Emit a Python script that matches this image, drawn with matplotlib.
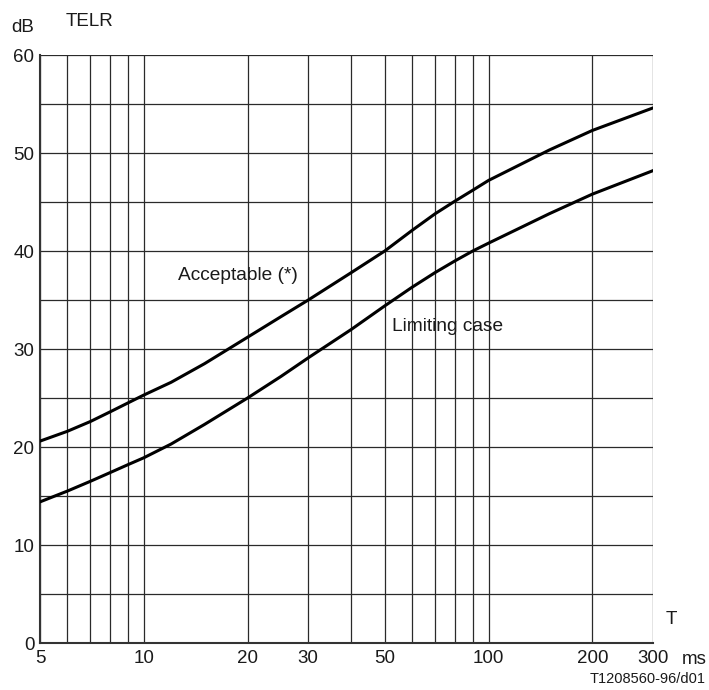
import matplotlib
matplotlib.use("Agg")
import matplotlib.pyplot as plt
from matplotlib.ticker import FixedLocator, NullLocator, NullFormatter

plt.rcParams['font.family'] = ['Liberation Sans', 'DejaVu Sans']

# Data
t_ms = [5, 6, 7, 8, 9, 10, 12, 15, 20, 25, 30, 40, 50, 60, 70, 80, 90, 100, 150, 200, 300]
acceptable = [20.6, 21.6, 22.6, 23.6, 24.5, 25.3, 26.6, 28.5, 31.2, 33.3, 35.0, 37.8,
              40.0, 42.1, 43.8, 45.1, 46.2, 47.2, 50.3, 52.3, 54.6]
limiting = [14.4, 15.5, 16.5, 17.4, 18.2, 18.9, 20.3, 22.3, 25.0, 27.2, 29.1, 32.0,
            34.4, 36.3, 37.8, 39.0, 40.0, 40.8, 43.8, 45.8, 48.2]

x_ticks = [5, 10, 20, 30, 50, 100, 200, 300]
x_grid = [5, 6, 7, 8, 9, 10, 20, 30, 40, 50, 60, 70, 80, 90, 100, 200, 300]
y_ticks = [0, 10, 20, 30, 40, 50, 60]
y_grid = [0, 5, 10, 15, 20, 25, 30, 35, 40, 45, 50, 55, 60]

fig = plt.figure(figsize=(7.09, 6.90), dpi=100)
ax = fig.add_axes([40/709, 47/690, 613/709, 588/690])
ax.set_xscale('log')
ax.set_xlim(5, 300)
ax.set_ylim(0, 60)

for xv in x_grid:
    ax.axvline(xv, color='#2a2a2a', lw=0.9, zorder=1)
for yv in y_grid:
    ax.axhline(yv, color='#2a2a2a', lw=0.9, zorder=1)

ax.plot(t_ms, acceptable, color='black', lw=2.2, zorder=3, solid_joinstyle='round')
ax.plot(t_ms, limiting, color='black', lw=2.2, zorder=3, solid_joinstyle='round')

ax.xaxis.set_major_locator(FixedLocator(x_ticks))
ax.xaxis.set_minor_locator(NullLocator())
ax.xaxis.set_minor_formatter(NullFormatter())
ax.set_xticklabels([str(v) for v in x_ticks])
ax.yaxis.set_major_locator(FixedLocator(y_ticks))
ax.set_yticklabels([str(v) for v in y_ticks])
ax.tick_params(axis='both', length=0, labelsize=13.5, colors='#1a1a1a')
ax.tick_params(axis='x', pad=5)
ax.tick_params(axis='y', pad=4)

for side in ['top', 'right']:
    ax.spines[side].set_visible(False)
for side in ['left', 'bottom']:
    ax.spines[side].set_linewidth(1.5)
    ax.spines[side].set_color('#333333')

ax.text(12.6, 37.55, 'Acceptable (*)', fontsize=13.8, va='center', ha='left',
        color='#1a1a1a', zorder=4)
ax.text(52.4, 32.3, 'Limiting case', fontsize=13.8, va='center', ha='left',
        color='#1a1a1a', zorder=4)

fig.text(11/709, 1 - 27/690, 'dB', fontsize=13.5, va='center', ha='left', color='#1a1a1a')
fig.text(66/709, 1 - 21/690, 'TELR', fontsize=13.5, va='center', ha='left', color='#1a1a1a')
fig.text(666/709, 1 - 620/690, 'T', fontsize=13.5, va='center', ha='left', color='#1a1a1a')
fig.text(682/709, 1 - 660/690, 'ms', fontsize=13.5, va='center', ha='left', color='#1a1a1a')
fig.text(706/709, 1 - 679/690, 'T1208560-96/d01', fontsize=10.5, va='center', ha='right',
         color='#1a1a1a')

fig.savefig('out.png', dpi=100, facecolor='white')
